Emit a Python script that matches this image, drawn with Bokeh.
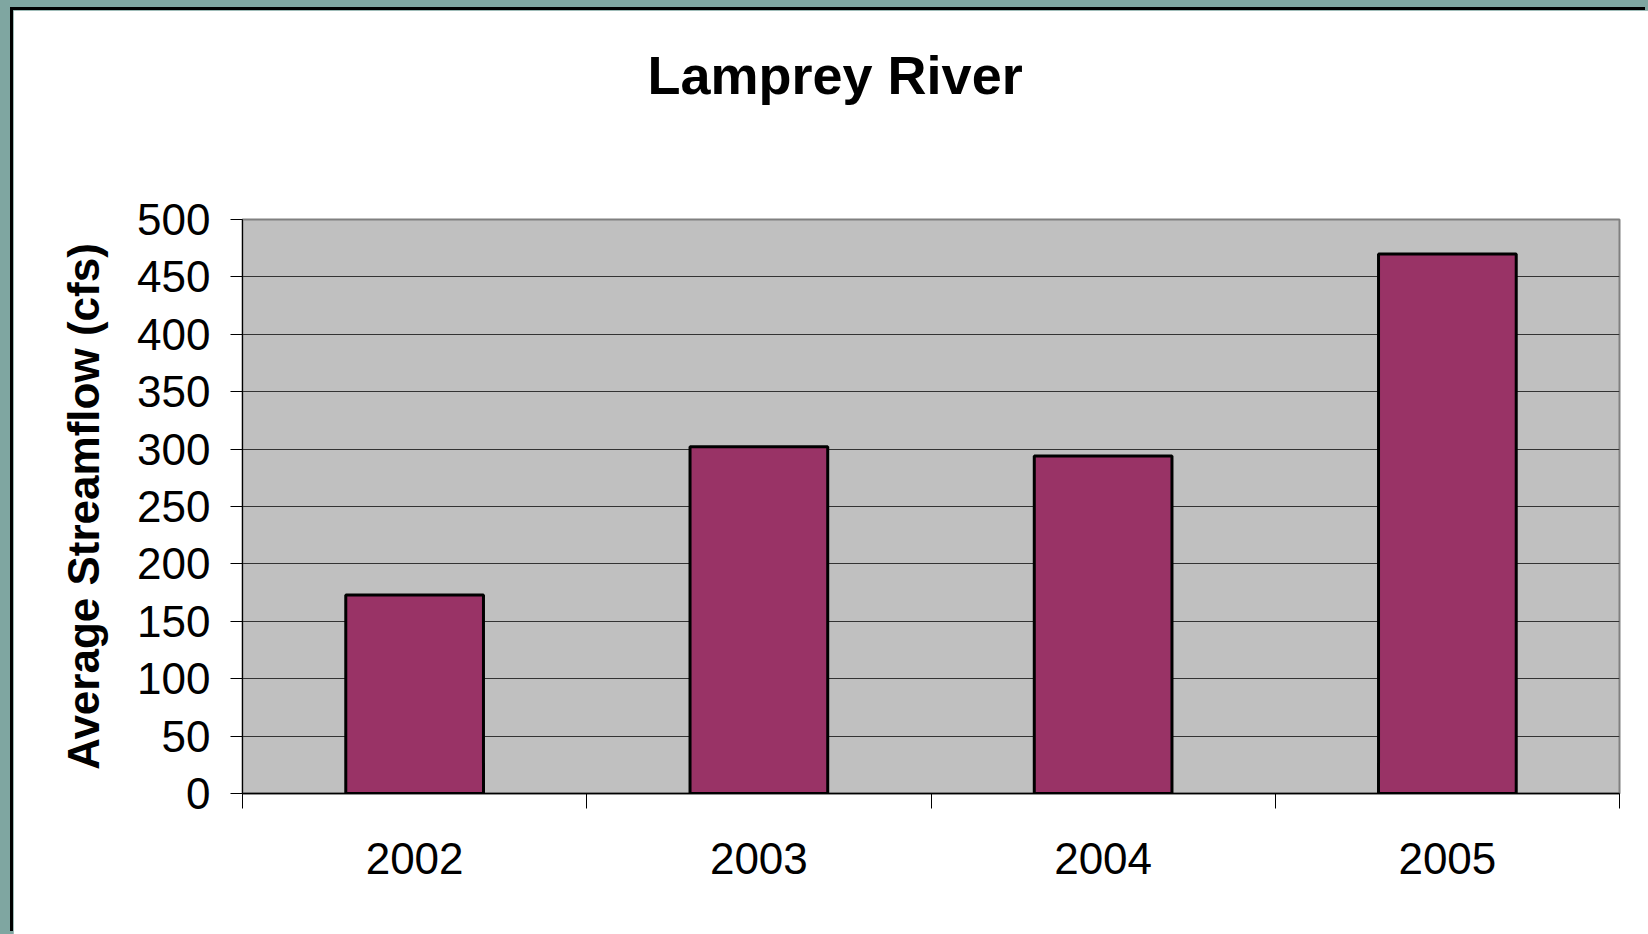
from bokeh.plotting import figure
from bokeh.models import FixedTicker, Title, Range1d, GlobalInlineStyleSheet
from bokeh.embed import file_html
from bokeh.resources import INLINE

# ---- data ----
years = ["2002", "2003", "2004", "2005"]
streamflow = [173, 302, 294, 470]
y_ticks = [0, 50, 100, 150, 200, 250, 300, 350, 400, 450, 500]
title_text = "Lamprey River"
y_label = "Average Streamflow (cfs)"

centers = [i + 0.5 for i in range(len(years))]
bounds = list(range(len(years) + 1))

FONT = "Liberation Sans"

p = figure(width=1635, height=924, output_backend="svg", toolbar_location=None,
           x_range=Range1d(0, len(years)), y_range=Range1d(y_ticks[0], y_ticks[-1]),
           min_border_left=229, min_border_right=29, min_border_top=209, min_border_bottom=141)

p.background_fill_color = "#C0C0C0"
p.border_fill_color = "white"
p.outline_line_color = "#808080"
p.outline_line_width = 2

p.vbar(x=centers, top=streamflow, width=0.4, bottom=0,
       fill_color="#993366", line_color="black", line_width=3)

# grid
p.xgrid.visible = False
p.ygrid.ticker = FixedTicker(ticks=y_ticks)
p.ygrid.grid_line_color = "#333333"
p.ygrid.grid_line_width = 1

# y axis
ya = p.yaxis[0]
ya.ticker = FixedTicker(ticks=y_ticks)
ya.major_tick_out = 12
ya.major_tick_in = 0
ya.minor_tick_out = 0
ya.minor_tick_in = 0
ya.axis_line_color = "black"
ya.major_tick_line_color = "black"
ya.major_label_text_font = FONT
ya.major_label_text_font_size = "44px"
ya.major_label_text_color = "black"
ya.major_label_standoff = 20
ya.axis_label = y_label
ya.axis_label_text_font = FONT
ya.axis_label_text_font_style = "bold"
ya.axis_label_text_font_size = "44px"
ya.axis_label_text_color = "black"
ya.axis_label_standoff = 26

# x axis
xa = p.xaxis[0]
xa.ticker = FixedTicker(ticks=centers, minor_ticks=bounds)
xa.major_label_overrides = {c: y for c, y in zip(centers, years)}
xa.major_tick_out = 0
xa.major_tick_in = 0
xa.minor_tick_out = 15
xa.minor_tick_in = 0
xa.minor_tick_line_color = "black"
xa.axis_line_color = "black"
xa.axis_line_width = 1.5
xa.major_label_text_font = FONT
xa.major_label_text_font_size = "44px"
xa.major_label_text_color = "black"
xa.major_label_standoff = 34

# title (spacer panel keeps it high above the frame)
spacer = Title(text=" ", standoff=112, text_font_size="1px")
p.add_layout(spacer, "above")
title = Title(text=title_text, align="left", offset=405, standoff=0,
              vertical_align="bottom",
              text_font=FONT, text_font_style="bold", text_font_size="54px",
              text_color="black")
p.add_layout(title, "above")

p.stylesheets = [GlobalInlineStyleSheet(css="html, body {overflow:hidden; background-color:#7FA6A1;}")]
p.styles = {"margin-left": "13px", "margin-top": "10px", "box-shadow": "-3px -3px 0 0 black"}

open("out.html", "w").write(file_html(p, INLINE))
